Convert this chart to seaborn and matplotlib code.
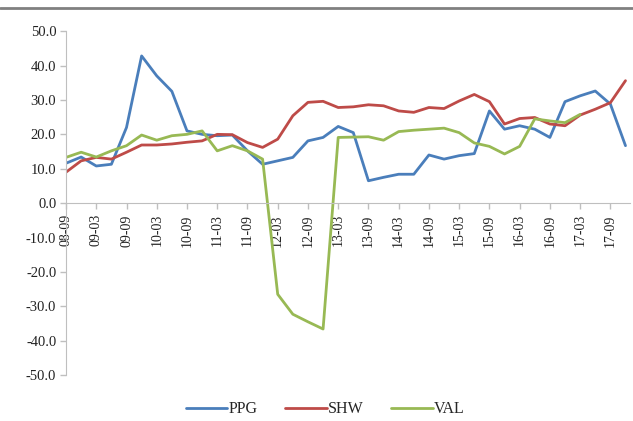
import numpy as np
import pandas as pd
import matplotlib
matplotlib.use("Agg")
import matplotlib.pyplot as plt
from matplotlib.lines import Line2D
import seaborn as sns

# quarterly periods, 08-09 .. 17-12
quarters = ["08-09", "08-12", "09-03", "09-06", "09-09", "09-12", "10-03", "10-06",
            "10-09", "10-12", "11-03", "11-06", "11-09", "11-12", "12-03", "12-06",
            "12-09", "12-12", "13-03", "13-06", "13-09", "13-12", "14-03", "14-06",
            "14-09", "14-12", "15-03", "15-06", "15-09", "15-12", "16-03", "16-06",
            "16-09", "16-12", "17-03", "17-06", "17-09", "17-12"]

ppg = [11.6, 13.4, 10.8, 11.3, 22.0, 42.8, 37.0, 32.5, 21.0, 20.0, 19.6, 19.8,
       15.2, 11.3, 12.3, 13.3, 18.1, 19.1, 22.3, 20.5, 6.5, 7.5, 8.4, 8.4,
       14.0, 12.8, 13.8, 14.4, 26.8, 21.5, 22.5, 21.5, 19.1, 29.5, 31.2, 32.6,
       28.8, 16.7]
shw = [9.0, 12.3, 13.3, 12.8, 14.8, 16.9, 16.9, 17.2, 17.7, 18.1, 20.0, 19.9,
       17.6, 16.2, 18.6, 25.4, 29.3, 29.6, 27.8, 28.0, 28.6, 28.3, 26.8, 26.4,
       27.8, 27.5, 29.7, 31.6, 29.5, 23.0, 24.6, 24.9, 23.0, 22.5, 25.6, 27.3,
       29.2, 35.6]
val = [13.3, 14.8, 13.4, 15.2, 16.7, 19.8, 18.3, 19.6, 20.0, 21.0, 15.2, 16.7,
       15.2, 12.8, -26.5, -32.3, -34.5, -36.6, 19.1, 19.2, 19.3, 18.3, 20.8, 21.2,
       21.5, 21.8, 20.5, 17.5, 16.5, 14.3, 16.5, 24.5, 23.9, 23.4, 25.8,
       np.nan, np.nan, np.nan]

series = ["PPG", "SHW", "VAL"]
colors = ["#4A7EBB", "#BE4B48", "#98B954"]

df = pd.DataFrame({"idx": np.arange(len(quarters)), "PPG": ppg, "SHW": shw, "VAL": val})
long = df.melt(id_vars="idx", var_name="company", value_name="value").dropna()

sns.set_style("white")
plt.rcParams["font.family"] = ["Liberation Serif", "DejaVu Serif"]

fig = plt.figure(figsize=(6.33, 4.21), dpi=100)
ax = fig.add_axes([0.1043, 0.109, 0.891, 0.817])

sns.lineplot(data=long, x="idx", y="value", hue="company", hue_order=series,
             palette=colors, linewidth=2.0, ax=ax, legend=False)

ax.set_xlim(0, 37.3)
ax.set_ylim(-50, 50)
ax.set_yticks(np.arange(-50, 51, 10))
ax.set_yticklabels([f"{v:.1f}" for v in np.arange(-50, 51, 10)], fontsize=10.5)
ax.set_xticks(np.arange(0, len(quarters), 2))
ax.set_xticklabels(quarters[::2], fontsize=10.5)
ax.set_xlabel("")
ax.set_ylabel("")

for s in ["top", "right"]:
    ax.spines[s].set_visible(False)
ax.spines["bottom"].set_position(("data", 0))
ax.spines["bottom"].set_color("#BFBFBF")
ax.spines["left"].set_color("#BFBFBF")
ax.tick_params(axis="both", which="both", direction="out", length=4,
               color="#BFBFBF", width=1, pad=3, labelcolor="#222222")
ax.tick_params(axis="x", bottom=True, labelrotation=90, pad=4)
ax.tick_params(axis="y", left=True)
for lab in ax.get_xticklabels():
    lab.set_rotation(90)
    lab.set_va("top")
    lab.set_ha("center")

handles = [Line2D([0], [0], color=c, lw=2.0) for c in colors]
fig.legend(handles, series, loc="center", bbox_to_anchor=(0.514, 0.028),
           ncol=3, frameon=False, fontsize=11.5, handlelength=2.6,
           handletextpad=0.1, columnspacing=1.7)

# grey rule across the top
fig.add_artist(Line2D([0, 1], [1 - 7.5 / 421] * 2, color="#808080", lw=2))

fig.savefig("out.png", dpi=100)
